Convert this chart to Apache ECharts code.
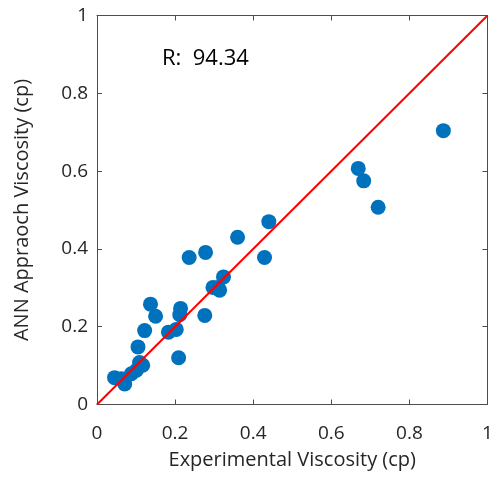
<!DOCTYPE html>
<html><head><meta charset="utf-8">
<script src="https://cdn.jsdelivr.net/npm/echarts@6/dist/echarts.min.js"></script>
<style>html,body{margin:0;padding:0;background:#fff}#c{width:490px;height:477px}</style>
</head><body><div id="c"></div>
<script>
const xTitle = 'Experimental Viscosity (cp)';
const yTitle = 'ANN Appraoch Viscosity (cp)';
const rText = 'R:  94.34';
const expVals = [0.887,0.669,0.683,0.720,0.440,0.360,0.278,0.236,0.429,0.324,0.310,0.297,0.314,0.137,0.150,0.214,0.212,0.276,0.122,0.183,0.203,0.105,0.209,0.117,0.101,0.088,0.045,0.071,0.062,0.109];
const annVals = [0.704,0.607,0.575,0.507,0.470,0.430,0.391,0.378,0.378,0.328,0.301,0.301,0.294,0.258,0.227,0.247,0.231,0.229,0.190,0.186,0.193,0.148,0.120,0.101,0.088,0.079,0.069,0.053,0.066,0.108];
const lineX = [0, 1];
const lineY = [0, 1];
const ticks = [0, 0.2, 0.4, 0.6, 0.8, 1];

const font = '"Open Sans", "Noto Sans", sans-serif';
const axColor = '#4d4d4d';
const txtColor = '#262626';
const chart = echarts.init(document.getElementById('c'), null, {renderer:'canvas'});
const fmt = v => (v === 0 || v === 1) ? String(v) : String(+v.toFixed(1));
const baseAxis = (pos, showLabel, name, nameGap, rot, margin) => ({
  type:'value', min:0, max:1, interval:0.2, position:pos,
  name: name || '', nameLocation:'middle', nameGap: nameGap || 0, nameRotate: rot,
  nameTextStyle:{fontFamily:font, fontSize:20, color:txtColor},
  axisLine:{show:true, onZero:false, lineStyle:{color:axColor, width:1}},
  axisTick:{show:true, inside:true, length:5, lineStyle:{color:axColor}},
  axisLabel:{show:showLabel, fontFamily:font, fontSize:19, color:txtColor, margin:margin || 10, formatter:fmt},
  splitLine:{show:false}
});
const scatterData = expVals.map((v,i)=>[v, annVals[i]]);
chart.setOption({
  animation:false,
  grid:{left:97, top:15.5, width:390.5, height:389, containLabel:false, outerBoundsMode:'none'},
  xAxis:[baseAxis('bottom', true, xTitle, 46, 0, 20), baseAxis('top', false)],
  yAxis:[baseAxis('left', true, yTitle, 65, 90, 9), baseAxis('right', false)],
  series:[
    {type:'line', data: lineX.map((v,i)=>[v, lineY[i]]), symbol:'none',
     lineStyle:{color:'#ff0000', width:2}, z:3},
    {type:'scatter', data: scatterData, symbolSize:15,
     itemStyle:{color:'#0072BD', opacity:1}, z:2}
  ],
  graphic:[{type:'text', left:162, top:48,
    style:{text:rText, font:'22px ' + font, fill:'#000'}}]
});
</script></body></html>
